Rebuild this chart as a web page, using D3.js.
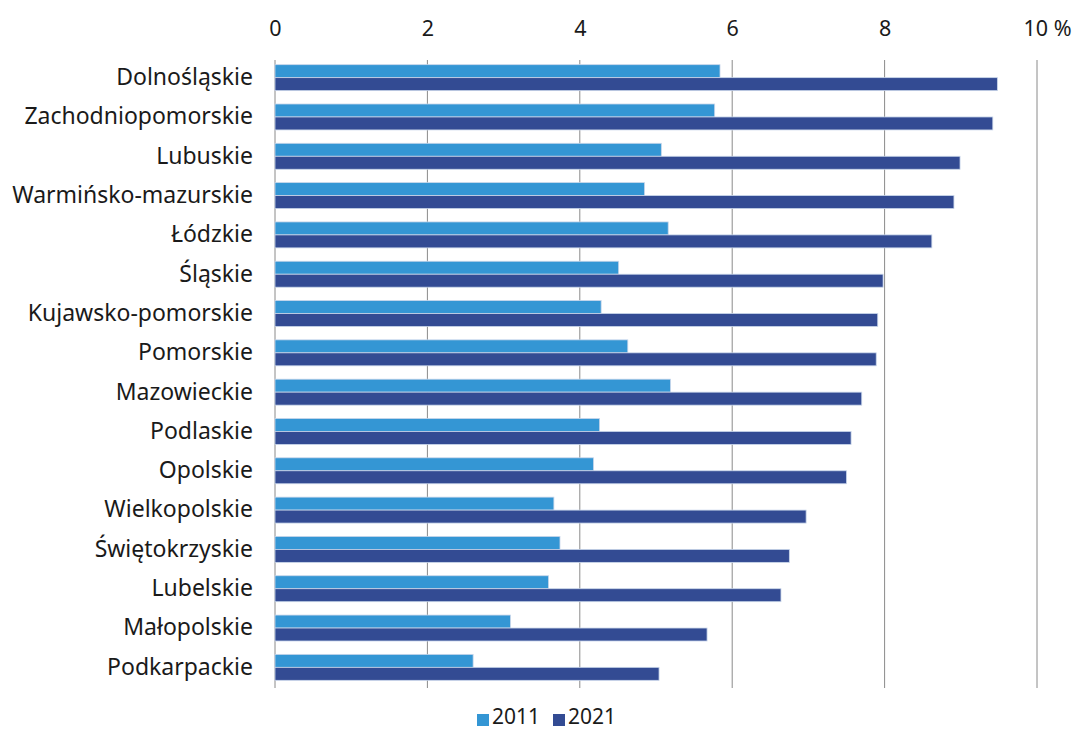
<!DOCTYPE html>
<html><head><meta charset="utf-8">
<script src="https://cdn.jsdelivr.net/npm/d3@7/dist/d3.min.js"></script>
<style>body{margin:0;background:#fff;} text{font-family:"Noto Sans",sans-serif;fill:#1a1a1a;}</style>
</head><body>
<svg id="c" width="1074" height="730"></svg>
<script>
const categories = ["Dolnośląskie","Zachodniopomorskie","Lubuskie","Warmińsko-mazurskie","Łódzkie","Śląskie","Kujawsko-pomorskie","Pomorskie","Mazowieckie","Podlaskie","Opolskie","Wielkopolskie","Świętokrzyskie","Lubelskie","Małopolskie","Podkarpackie"];
const values2011 = [5.84,5.77,5.07,4.85,5.16,4.51,4.28,4.63,5.19,4.26,4.18,3.66,3.74,3.59,3.09,2.60];
const values2021 = [9.48,9.42,8.99,8.91,8.62,7.98,7.91,7.89,7.70,7.56,7.50,6.97,6.75,6.64,5.67,5.04];
const seriesNames = ["2011","2021"];
const tickValues = [0,2,4,6,8,10];
const tickLabels = ["0","2","4","6","8","10 %"];
const colors = ["#3496d4","#334b93"];

const svg = d3.select("#c");
const x = d3.scaleLinear().domain([0,10]).range([275,1037]);
const y = d3.scaleBand().domain(categories).range([58,687]).paddingInner(0.34).paddingOuter(0.17);
const ys = d3.scaleBand().domain(seriesNames).range([0,y.bandwidth()]);

// grid
svg.append("g").selectAll("line").data(tickValues).join("line")
  .attr("x1",d=>x(d)).attr("x2",d=>x(d)).attr("y1",60).attr("y2",688)
  .attr("stroke","#8a8a8a").attr("stroke-width",1);

// top axis labels
const ax = svg.append("g").attr("transform","translate(0,60)")
  .call(d3.axisTop(x).tickValues(tickValues).tickFormat((d,i)=>tickLabels[i]).tickSize(0).tickPadding(24));
ax.select(".domain").remove();
ax.selectAll("text").attr("font-size",21.5).attr("font-family","Noto Sans").attr("fill","#1a1a1a");
ax.selectAll(".tick").filter(d=>d===10).select("text").attr("dx",10);

// bars
const series = [values2011, values2021];
series.forEach((vals,si)=>{
  svg.append("g").selectAll("rect").data(categories).join("rect")
    .attr("x",x(0)).attr("y",d=>y(d)+ys(seriesNames[si]))
    .attr("width",(d,i)=>x(vals[i])-x(0)).attr("height",ys.bandwidth())
    .attr("fill",colors[si]).attr("stroke","#c9d6ea").attr("stroke-width",0.8);
});

// category labels
const ay = svg.append("g").attr("transform","translate(275,0)")
  .call(d3.axisLeft(y).tickSize(0).tickPadding(22));
ay.select(".domain").remove();
ay.selectAll("text").attr("font-size",23).attr("font-family","Noto Sans").attr("fill","#1a1a1a");

// legend
const leg = svg.append("g");
const legX = [477,553];
seriesNames.forEach((s,i)=>{
  leg.append("rect").attr("x",legX[i]).attr("y",714).attr("width",12).attr("height",12).attr("fill",colors[i]);
  leg.append("text").attr("x",legX[i]+15).attr("y",724).attr("font-size",21).text(s);
});
</script>
</body></html>
